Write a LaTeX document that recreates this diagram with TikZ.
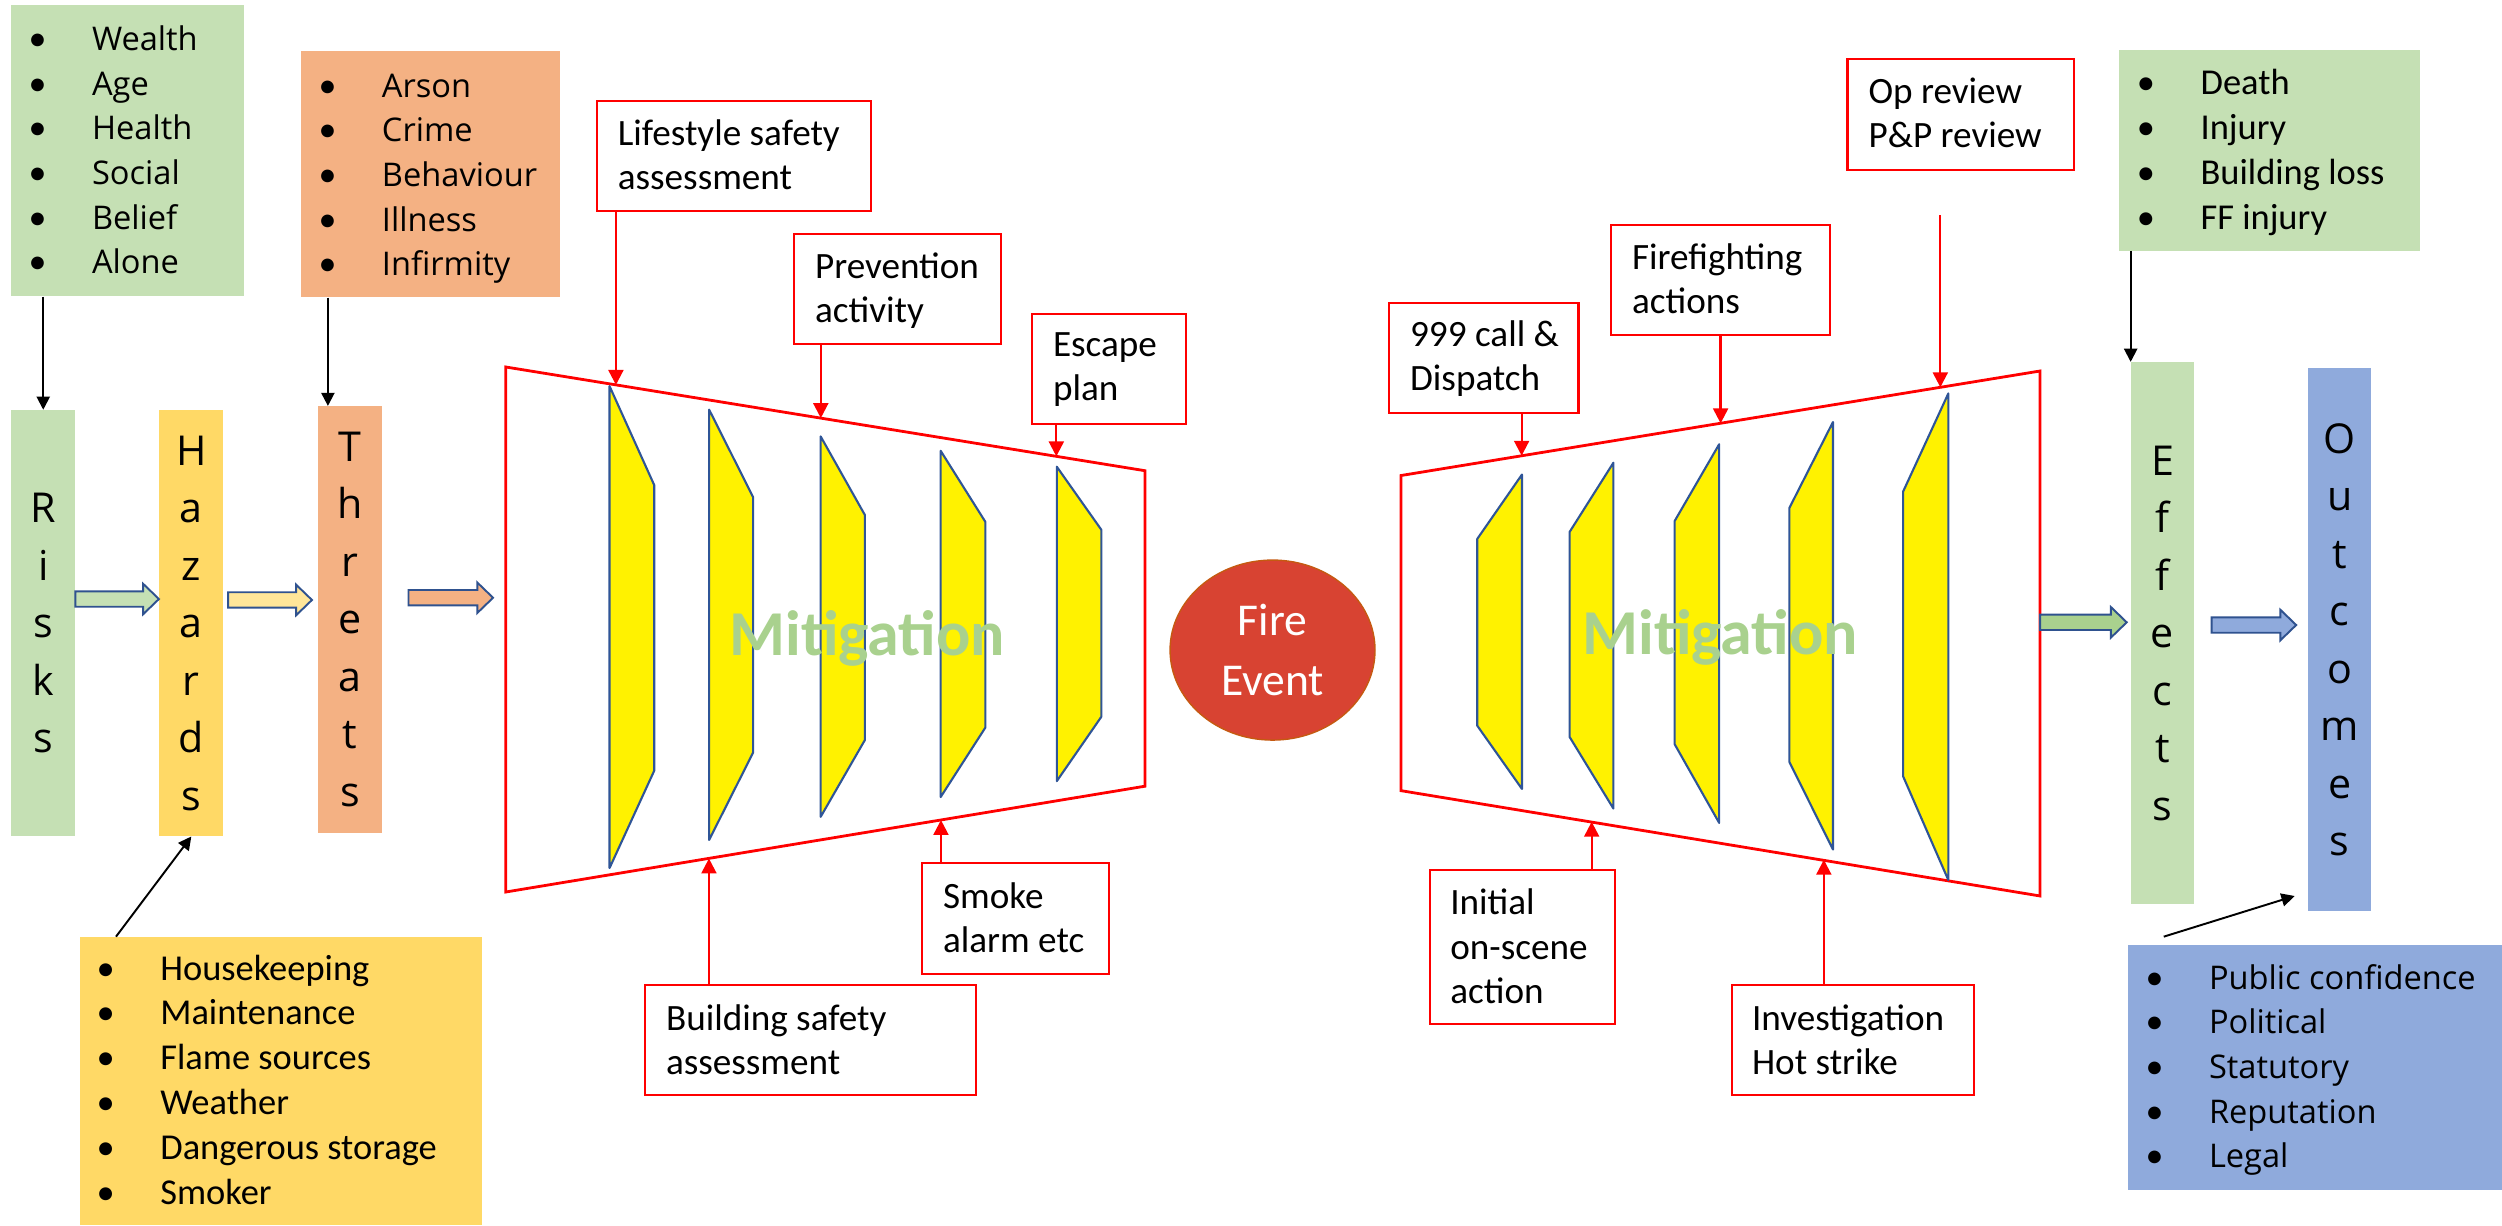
\documentclass[tikz,border=0pt]{standalone}
\usepackage{fontspec}
\setmainfont{Carlito}
\newfontfamily\calfont{Carlito}
\newfontfamily\gfont{Open Sans}
\usetikzlibrary{shapes.geometric,arrows.meta,fit,calc}

\definecolor{lgreen}{HTML}{C5E0B4}
\definecolor{lorange}{HTML}{F4B183}
\definecolor{lyellow}{HTML}{FFD966}
\definecolor{lblue}{HTML}{8FAADC}
\definecolor{mgreen}{HTML}{A9D18E}
\definecolor{pyellow}{HTML}{FFE699}
\definecolor{sblue}{HTML}{2F5597}
\definecolor{aborder}{HTML}{2F528F}
\definecolor{fired}{RGB}{216,67,50}
\definecolor{fireborder}{HTML}{C55A11}
\definecolor{pred}{HTML}{FF0000}

\newcommand{\gitem}[1]{\makebox[36.2pt][l]{{\calfont\fontsize{20.5}{20}\selectfont\textbullet}}#1\par}
\newcommand{\citem}[1]{\makebox[36.3pt][l]{\textbullet}#1\par}
\newcommand{\blockarrow}[3]{%
  \draw[draw=aborder, line width=1.1pt, fill=#1] let \p1=(#2), \p2=(#3) in
  (\x1,\y1+4.4pt) -- (\x2-9pt,\y1+4.4pt) -- (\x2-9pt,\y1+8.7pt) -- (\x2,\y1)
  -- (\x2-9pt,\y1-8.7pt) -- (\x2-9pt,\y1-4.4pt) -- (\x1,\y1-4.4pt) -- cycle;}

\begin{document}
\begin{tikzpicture}[x=0.032cm,y=-0.032cm,
  cbox/.style={draw=none,inner sep=0pt},
  lbl/.style={draw=pred,line width=1.2pt,inner sep=0pt},
  ltext/.style={anchor=base west,inner sep=0pt,font=\calfont\fontsize{21.2}{25.2}\selectfont},
  ctext/.style={anchor=base west,inner sep=0pt,font=\calfont\fontsize{20.8}{25.6}\selectfont},
  gtext/.style={anchor=base west,inner sep=0pt,font=\gfont\fontsize{18.6}{25.5}\selectfont},
  vword/.style={inner sep=0pt,align=center,font=\gfont\fontsize{23.5}{32.8}\selectfont},
  ys/.style={fill=yellow,draw=sblue,line width=1.2pt,line join=round},
  trap/.style={draw=pred,line width=1.6pt},
  blk/.style={draw=black,line width=1.1pt,-{Triangle[length=7.5pt,width=7.5pt]}},
  rarr/.style={draw=pred,line width=1.3pt,-{Triangle[length=8.5pt,width=8.5pt]}},
  mit/.style={anchor=base,inner sep=0pt,text=mgreen,font=\calfont\bfseries\fontsize{36.5}{40}\selectfont}]
\useasboundingbox (0,0) rectangle (1568,768);

% ---------- coloured boxes ----------
\node[cbox,fill=lgreen,fit={(7.2,3.4) (153,185.6)}] (wealth) {};
\node[cbox,fill=lorange,fit={(188.8,32) (351,186.3)}] (arson) {};
\node[cbox,fill=lgreen,fit={(7.2,257) (47,524)}] (risks) {};
\node[cbox,fill=lyellow,fit={(99.8,257) (140,524)}] (hazards) {};
\node[cbox,fill=lorange,fit={(199,254.4) (239.5,522)}] (threats) {};
\node[cbox,fill=lyellow,fit={(50,587) (302,768)}] (hzlist) {};
\node[cbox,fill=lgreen,fit={(1328,31.3) (1516.6,157)}] (efflist) {};
\node[cbox,fill=lgreen,fit={(1335.5,227) (1375,566.7)}] (effects) {};
\node[cbox,fill=lblue,fit={(1446.6,230.8) (1486,571)}] (outcomes) {};
\node[cbox,fill=lblue,fit={(1333.6,592) (1568,746)}] (outlist) {};

% ---------- list texts ----------
\node[gtext] (wealthT) at (17.7,31.6) {\parbox[t]{6cm}{\gitem{Wealth}\gitem{Age}\gitem{Health}\gitem{Social}\gitem{Belief}\gitem{Alone}}};
\node[gtext] (arsonT) at (199.4,60.8) {\parbox[t]{6cm}{\gitem{Arson}\gitem{Crime}\gitem{Behaviour}\gitem{Illness}\gitem{Infirmity}}};
\node[gtext] (outlistT) at (1344.4,619.8) {\parbox[t]{7cm}{\gitem{Public confidence}\gitem{Political}\gitem{Statutory}\gitem{Reputation}\gitem{Legal}}};
\node[ctext] (hzlistT) at (60.4,614.2) {\parbox[t]{7cm}{\citem{Housekeeping}\citem{Maintenance}\citem{Flame sources}\citem{Weather}\citem{Dangerous storage}\citem{Smoker}}};
\node[ctext] (efflistT) at (1339,59.5) {\parbox[t]{6cm}{\citem{Death}\citem{Injury}\citem{Building loss}\citem{FF injury}}};

% ---------- vertical words ----------
\node[vword] (risksW) at (risks.center) {R\\i\\s\\k\\s};
\node[vword] (hazardsW) at (hazards.center) {H\\a\\z\\a\\r\\d\\s};
\node[vword] (threatsW) at (threats.center) {T\\h\\r\\e\\a\\t\\s};
\node[vword] (effectsW) at (effects.center) {E\\f\\f\\e\\c\\t\\s};
\node[vword] (outcomesW) at (outcomes.center) {O\\u\\t\\c\\o\\m\\e\\s};

% ---------- trapezoids ----------
\draw[trap] (317,230) -- (717.6,295) -- (717.6,492.7) -- (317,559) -- cycle;
\draw[trap] (878,298) -- (1278.5,232.5) -- (1278.5,561.5) -- (878,495.5) -- cycle;

% ---------- yellow plates, left ----------
\draw[ys] (382,242) -- (410,304) -- (410,483) -- (382,544) -- cycle;
\draw[ys] (444.4,256.7) -- (472,311.6) -- (472,471.6) -- (444.4,526.4) -- cycle;
\draw[ys] (514.3,273.5) -- (542,322.7) -- (542,463.8) -- (514.3,511.9) -- cycle;
\draw[ys] (589.5,282.5) -- (617.5,327) -- (617.5,456) -- (589.5,499.5) -- cycle;
\draw[ys] (662.3,292.5) -- (690.2,332) -- (690.2,449.2) -- (662.3,489.5) -- cycle;
% ---------- yellow plates, right ----------
\draw[ys] (953.8,297.4) -- (953.8,494.4) -- (925.8,454.8) -- (925.8,337.7) -- cycle;
\draw[ys] (1011.1,290) -- (1011.1,506.7) -- (983.7,461.9) -- (983.7,333.3) -- cycle;
\draw[ys] (1077.4,278.4) -- (1077.4,515.7) -- (1049.5,466.4) -- (1049.5,326.5) -- cycle;
\draw[ys] (1148.7,264.5) -- (1148.7,532.4) -- (1121.4,477.5) -- (1121.4,318.3) -- cycle;
\draw[ys] (1221,246.6) -- (1221,551.5) -- (1192.7,486.6) -- (1192.7,308) -- cycle;

\node[mit] (mit1) at (543.5,410.5) {Mitigation};
\node[mit] (mit2) at (1078,410) {Mitigation};

% ---------- fire event ----------
\node[ellipse,draw=fireborder,line width=0.8pt,fill=fired,minimum width=4.11cm,minimum height=3.61cm,
  inner sep=0pt,align=center,text=white,font=\calfont\fontsize{26}{34}\selectfont] (fire) at (797.5,407.4) {Fire\\Event};

% ---------- red label boxes ----------
\node[lbl,fit={(374.2,63.1) (546,132)}] (lsbox) {};
\node[lbl,fit={(497.8,146.6) (627.4,215.6)}] (pabox) {};
\node[lbl,fit={(646.6,196.8) (743.3,265.7)}] (epbox) {};
\node[lbl,fit={(578,541) (695,610.4)}] (smbox) {};
\node[lbl,fit={(404.2,617.3) (611.4,686.2)}] (bsbox) {};
\node[lbl,fit={(870.7,190) (989.2,258.6)}] (dpbox) {};
\node[lbl,fit={(1009.5,141) (1147,210)}] (ffbox) {};
\node[lbl,fit={(1157.8,37) (1299.8,106.5)}] (opbox) {};
\node[lbl,fit={(896.4,545) (1012.3,642)}] (isbox) {};
\node[lbl,fit={(1085.5,617.3) (1237,686)}] (ivbox) {};

\node[ltext] (lsT) at (387,90.9) {\parbox[t]{6cm}{Lifestyle safety\\assessment}};
\node[ltext] (paT) at (510.6,174.4) {\parbox[t]{6cm}{Prevention\\activity}};
\node[ltext] (epT) at (659.7,223.5) {\parbox[t]{6cm}{Escape\\plan}};
\node[ltext] (smT) at (590.8,569.2) {\parbox[t]{6cm}{Smoke\\alarm etc}};
\node[ltext] (bsT) at (417.2,645.5) {\parbox[t]{6cm}{Building safety\\assessment}};
\node[ltext] (dpT) at (883.5,217) {\parbox[t]{6cm}{999 call \&\\Dispatch}};
\node[ltext] (ffT) at (1022.6,169) {\parbox[t]{6cm}{Firefighting\\actions}};
\node[ltext] (opT) at (1170.8,64.8) {\parbox[t]{6cm}{Op review\\P\&P review}};
\node[ltext] (isT) at (908.7,573.4) {\parbox[t]{6cm}{Initial\\on-scene\\action}};
\node[ltext] (ivT) at (1097.8,645.5) {\parbox[t]{6cm}{Investigation\\Hot strike}};

% ---------- red arrows ----------
\coordinate (t1) at (386,241.2);
\coordinate (t2) at (514.4,262);
\coordinate (t3) at (662,286);
\coordinate (b1) at (444.3,538);
\coordinate (b2) at (589.7,513.9);
\coordinate (r1) at (953.6,285.6);
\coordinate (r2) at (1078.3,265.3);
\coordinate (r3s) at (1216,134.8);
\coordinate (r3) at (1216,242.7);
\coordinate (r4) at (997.5,515);
\coordinate (r5) at (1143,538.8);
\draw[rarr] (lsbox.south -| t1) -- (t1);
\draw[rarr] (pabox.south -| t2) -- (t2);
\draw[rarr] (epbox.south -| t3) -- (t3);
\draw[rarr] (bsbox.north -| b1) -- (b1);
\draw[rarr] (smbox.north -| b2) -- (b2);
\draw[rarr] (dpbox.south -| r1) -- (r1);
\draw[rarr] (ffbox.south -| r2) -- (r2);
\draw[rarr] (r3s) -- (r3);
\draw[rarr] (isbox.north -| r4) -- (r4);
\draw[rarr] (ivbox.north -| r5) -- (r5);

% ---------- black arrows ----------
\coordinate (thtop) at (205.5,254.4);
\coordinate (hzs) at (72.7,587);
\coordinate (ols) at (1356,587);
\coordinate (olt) at (1438,561.5);
\draw[blk] (wealth.south -| risks.north) -- (risks.north);
\draw[blk] (arson.south -| thtop) -- (thtop);
\draw[blk] (hzs) -- (hazards.south);
\draw[blk] (efflist.south -| effects.north west) -- (effects.north west);
\draw[blk] (ols) -- (olt);

% ---------- block arrows ----------
\coordinate (a1) at (46.3,375.4);
\coordinate (a2s) at (143,376);
\coordinate (a2e) at (195.5,376);
\coordinate (a3s) at (256,374.6);
\coordinate (a3e) at (309,374.6);
\coordinate (a4) at (1332.8,390);
\coordinate (a5s) at (1386,391.7);
\coordinate (a5e) at (1439,391.7);
\blockarrow{lgreen}{risks.east |- a1}{hazards.west |- a1}
\blockarrow{pyellow}{a2s}{a2e}
\blockarrow{lorange}{a3s}{a3e}
\blockarrow{mgreen}{1278.5,390}{a4}
\blockarrow{lblue}{a5s}{a5e}
\end{tikzpicture}
\end{document}
